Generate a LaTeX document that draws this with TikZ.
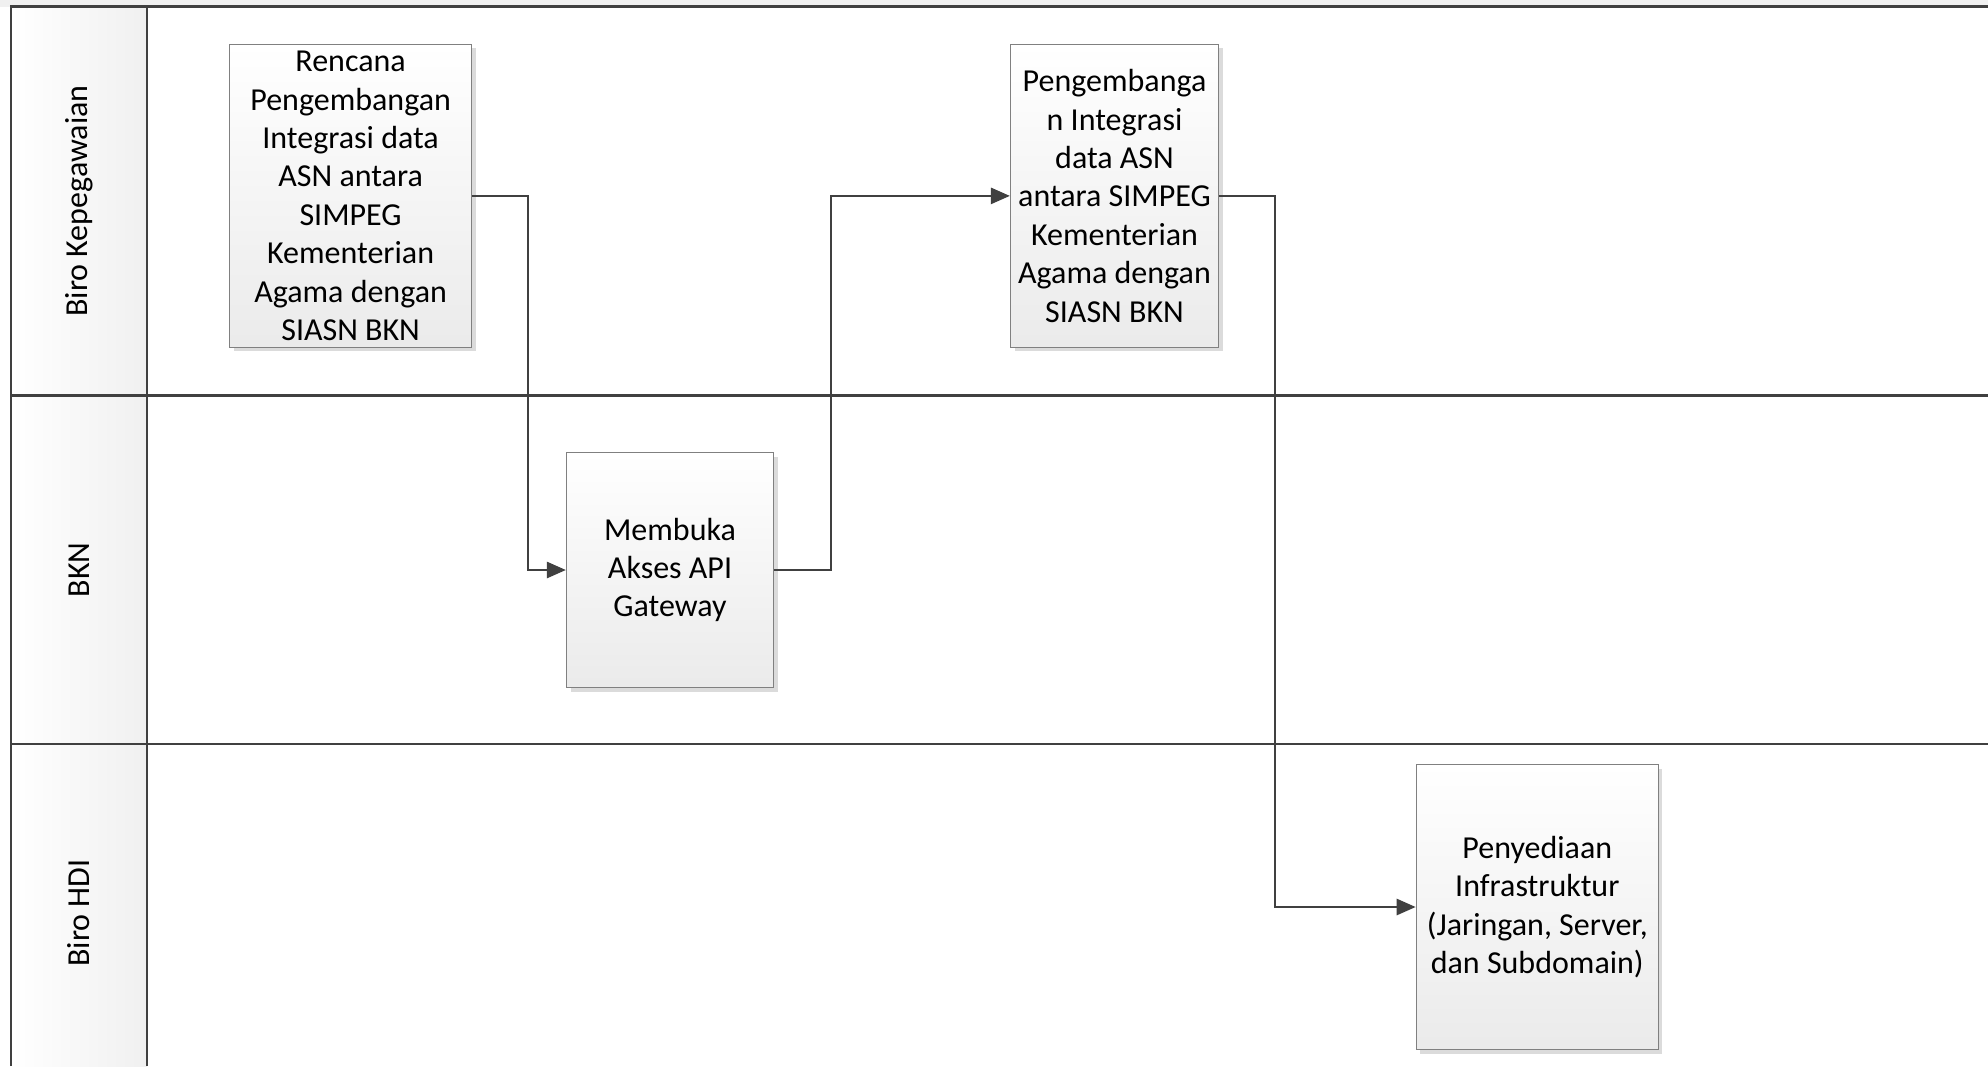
\documentclass[tikz,border=0pt]{standalone}
\usepackage{fontspec}
\setmainfont{Carlito}
\usetikzlibrary{arrows.meta,shadows}
\definecolor{lineC}{HTML}{404040}
\definecolor{boxBorder}{HTML}{808080}
\definecolor{bandC}{HTML}{F0F0F0}
\begin{document}
\begin{tikzpicture}[x=1pt,y=-1pt,
  lane/.style={draw=lineC,line width=2.5pt},
  proc/.style={draw=boxBorder,line width=1.2pt,top color=white,bottom color=black!8,
    drop shadow={shadow xshift=4pt,shadow yshift=-4pt,fill=black!14,opacity=1},
    inner sep=0pt,align=center,font=\fontsize{32}{38.4}\selectfont},
  lanelabel/.style={rotate=90,font=\fontsize{32}{36}\selectfont,inner sep=0pt},
  conn/.style={draw=lineC,line width=2.6pt,-{Triangle[length=19pt,width=16pt]}}]
\useasboundingbox (0,0) rectangle (1988,1066);
\fill[white] (0,0) rectangle (1988,1066);
\fill[bandC] (0,0) rectangle (1988,6.5);
\shade[left color=white,right color=bandC] (11,6.5) rectangle (147,1066);
% lane lines
\draw[lane] (11,1066) -- (11,6.5) -- (1988,6.5);
\draw[lane] (147,6.5) -- (147,1066);
\draw[lane] (11,395.6) -- (1988,395.6);
\draw[lane] (11,744) -- (1988,744);
% lane labels
\node[lanelabel] (l1) at (79,201) {Biro Kepegawaian};
\node[lanelabel] (l2) at (79,570) {BKN};
\node[lanelabel] (l3) at (79,913) {Biro HDI};
% process boxes
\node[proc,minimum width=242pt,minimum height=303pt] (b1) at (350.6,195.9)
  {Rencana\\Pengembangan\\Integrasi data\\ASN antara\\SIMPEG\\Kementerian\\Agama dengan\\SIASN BKN};
\node[proc,minimum width=207pt,minimum height=235pt] (b2) at (670,570)
  {Membuka\\Akses API\\Gateway};
\node[proc,minimum width=208pt,minimum height=303pt] (b3) at (1114.5,195.9)
  {Pengembanga\\n Integrasi\\data ASN\\antara SIMPEG\\Kementerian\\Agama dengan\\SIASN BKN};
\node[proc,minimum width=242pt,minimum height=285pt] (b4) at (1537.3,907)
  {Penyediaan\\Infrastruktur\\(Jaringan, Server,\\dan Subdomain)};
% connectors
\draw[conn] (b1.east) -- ++(55.7,0) |- (b2.west);
\draw[conn] (b2.east) -- ++(57,0) |- (b3.west);
\draw[conn] (b3.east) -- ++(55.7,0) |- (b4.west);
\end{tikzpicture}
\end{document}
